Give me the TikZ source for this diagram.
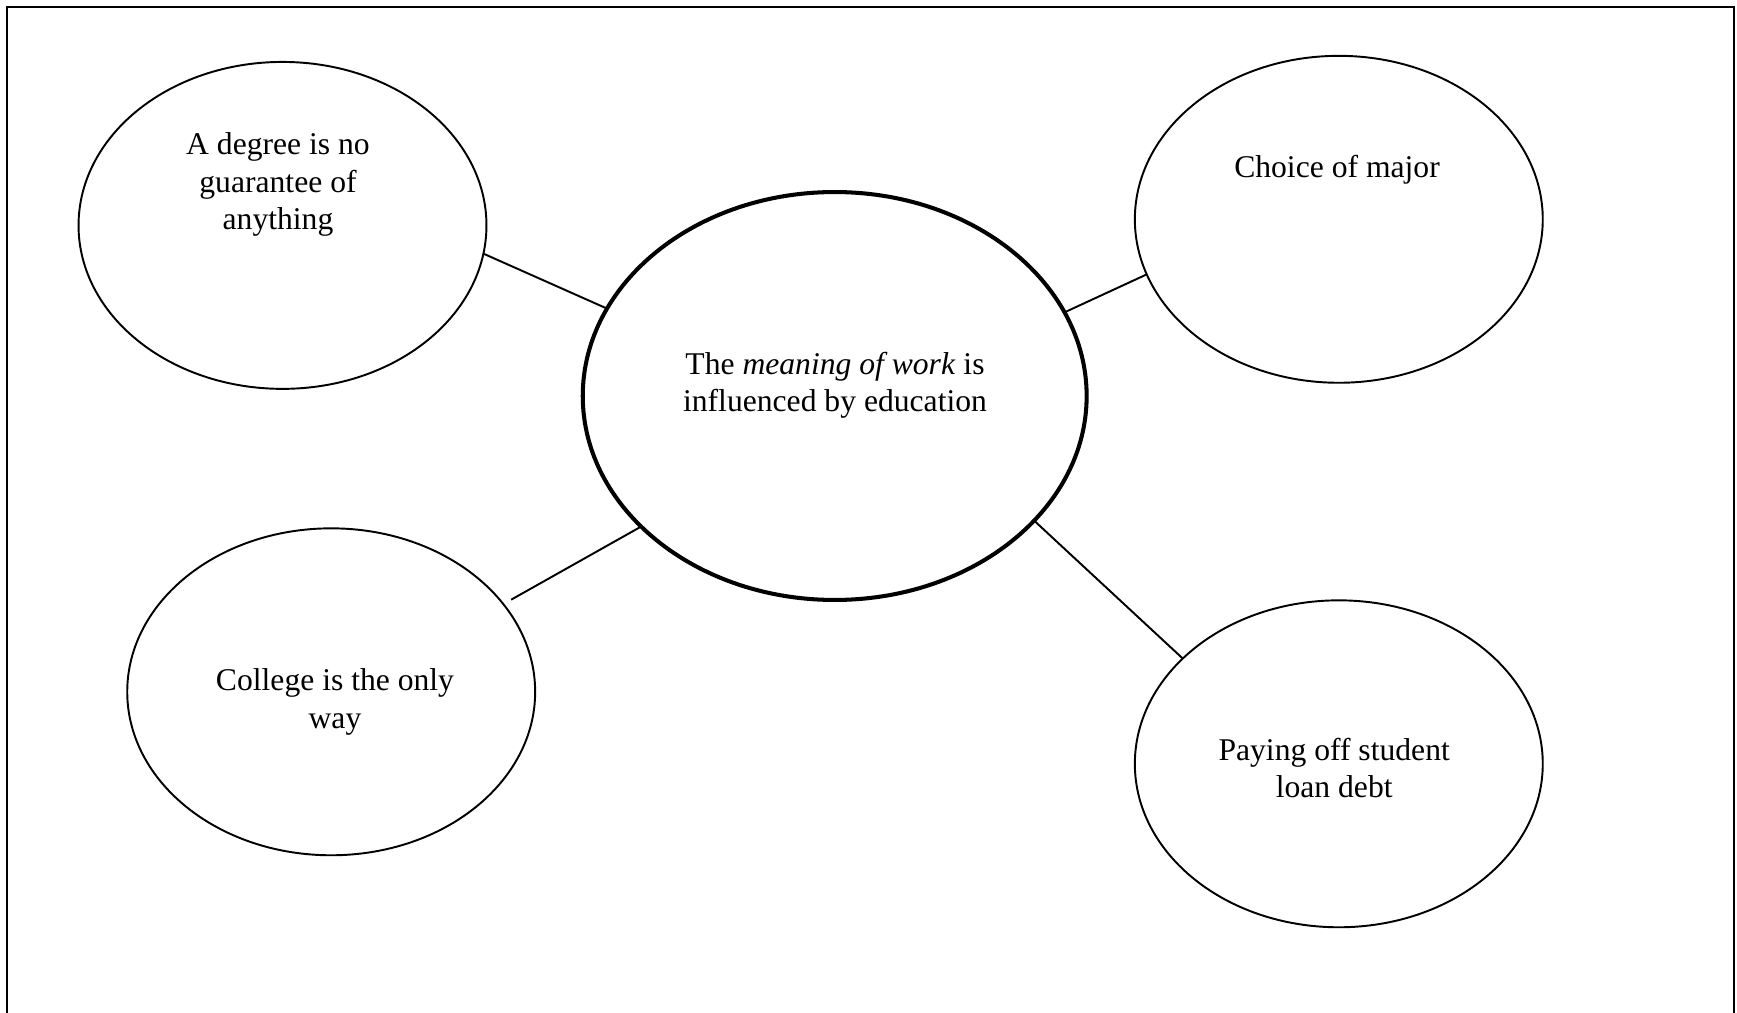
\documentclass[tikz,border=0pt]{standalone}
\usepackage{fontspec}
\setmainfont{Liberation Serif}
\usetikzlibrary{shapes.geometric}

\tikzset{
  frame/.style={line width=1.1pt},
  bubble/.style={ellipse, draw, line width=1.1pt, inner sep=0pt, outer sep=0pt,
                 minimum width=8.16cm, minimum height=6.54cm},
  hub/.style={ellipse, draw, line width=2.3pt, inner sep=0pt, outer sep=0pt,
              minimum width=10.08cm, minimum height=8.16cm},
  txt/.style={anchor=north, inner sep=0pt, align=center,
              font=\fontsize{18}{21.2}\selectfont},
  spoke/.style={line width=1.1pt}
}

\begin{document}
\begin{tikzpicture}[x=0.02cm, y=-0.02cm]
  \useasboundingbox (0,0) rectangle (1737,1013);

  % open frame (top, left and right edges)
  \draw[frame] (7,1013) -- (7,7) -- (1734,7) -- (1734,1013);

  % ellipses
  \node[hub]    (hub) at (834.7,396) {};
  \node[bubble] (tl)  at (282.5,225.4) {};
  \node[bubble] (tr)  at (1338.8,219.3) {};
  \node[bubble] (bl)  at (331.2,691.8) {};
  \node[bubble] (br)  at (1338.8,763.8) {};

  % labels
  \node[txt] (hubtext) at (835,351.5) {The \textit{meaning of work} is\\influenced by education};
  \node[txt] (tltext)  at (278,132.7) {A degree is no\\guarantee of\\anything};
  \node[txt] (trtext)  at (1337,154.9) {Choice of major};
  \node[txt] (bltext)  at (335,668.7) {College is the only\\way};
  \node[txt] (brtext)  at (1334.2,737.6) {Paying off student\\loan debt};

  % connectors
  \draw[spoke] (tl.-8)    -- (hub.159.6);
  \draw[spoke] (tr.196.4) -- (hub.20.6);
  \draw[spoke, shorten <=0.18cm] (bl.27) -- (hub.214.2);
  \draw[spoke] (br.146.3) -- (hub.-32.9);
\end{tikzpicture}
\end{document}
